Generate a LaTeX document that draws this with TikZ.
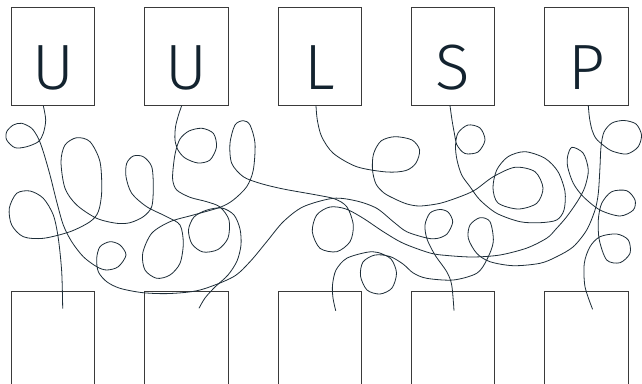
\documentclass[tikz,border=0pt]{standalone}
\usepackage{fontspec}
\setmainfont{Fira Sans}[UprightFont=* Light]
\definecolor{ink}{HTML}{13232F}
\definecolor{threadink}{HTML}{1D2D38}
\definecolor{frame}{HTML}{3A3A3A}
\begin{document}
\begin{tikzpicture}[x=1pt,y=-1pt,
  tile/.style={draw=frame,line width=0.9pt,minimum width=83.4pt,minimum height=98.4pt,inner sep=0pt,outer sep=0pt},
  glyph/.style={tile,text=ink,font=\fontsize{64}{64}\selectfont,text height=65pt,text depth=0pt},
  thread/.style={draw=threadink,line width=0.8pt}]
\clip (0,0) rectangle (642,383);
\fill[white] (0,0) rectangle (642,383);
\foreach \l [count=\i] in {U,U,L,S,P} {
  \node[glyph] (t\i) at ({53+133.4*(\i-1)},56.5) {\l};
  \node[tile] (b\i) at ({53+133.4*(\i-1)},340.9) {};
}
% U -> fourth slot
\draw[thread] plot[smooth] coordinates {([xshift=-9.7pt]t1.south) (45.7,120) (43.3,133.3) (38.3,141.7) (26.7,146.7) (15,147.7) (6.7,140) (6.7,131.7) (13.3,125) (21.7,123.3) (31.7,128.3) (38.3,138.3) (43.3,151.7) (50,175) (56.7,201.7) (63.3,225) (71.7,241.7) (83.3,256.7) (96.7,266.7) (106.7,270) (118.3,266.7) (126,255) (120,245) (110,241.7) (100,246.7) (96.7,258.3) (98.3,271.7) (106.7,281.7) (120,288.3) (143,292.7) (170,293.5) (200,290) (233,277) (250,261.7) (266.7,241.7) (283.3,221.7) (303.3,206.7) (333.3,198.3) (356.7,201) (376.7,208.3) (393.3,221.7) (406.7,231.7) (426.7,238) (437,238.5) (447,234) (452.7,222) (448.3,212.3) (440,209.5) (430,213) (425,225) (427,239) (435,255) (446.7,271.7) (451.7,285) ([xshift=0.8pt,yshift=-19pt]b4.north)};
% first slot -> last slot
\draw[thread] plot[smooth] coordinates {([xshift=9.7pt,yshift=-17pt]b1.north) (61.7,271.7) (58.3,238.3) (53.3,215) (43.3,198.3) (30,191) (16.7,193.3) (9.3,208.3) (11.7,225) (23.3,236.7) (43.3,238.3) (70,231.7) (90,221.7) (98.3,211.7) (101.7,191.7) (100,161.7) (90,141.7) (76.7,137.7) (65,145) (61,161.7) (65,188.3) (76.7,205) (96.7,218.3) (116.7,223.3) (130,222.7) (143.3,216.7) (151.7,206.7) (153.3,186.7) (151.7,166.7) (143.3,156.7) (133.3,156) (126.7,163.3) (126,176.7) (131.7,193.3) (146.7,206.7) (166.7,216.7) (180,225) (183.3,243.3) (180,263.3) (170,275) (156.7,278.3) (145,270) (142.7,253.3) (151.7,233.3) (170,221.7) (193.3,215) (220,207.3) (233.3,200) (246.7,186.7) (253.3,170) (255,143.3) (250,125) (243.3,120.7) (235,125) (230,143.3) (231.7,163.3) (243.3,176.7) (260,183.3) (283.3,189) (316.7,195) (335,199) (347,207) (353.3,225) (350,241.7) (336.7,251.7) (320,248.3) (312.3,231.7) (316.7,215) (330,207) (346,209) (363.3,218.3) (383.3,231.7) (403.3,243.3) (430,253) (447,255.5) (473,257) (500,255) (527,248) (547,238) (556,229) (566.7,216.7) (578.3,200) (585,186.7) (588.3,170) (583.3,153.3) (572,147.3) (567.7,156) (567.7,167) (573.3,183.3) (583.3,196.7) (600,210) (620,216) (633.3,210) (635,200) (626.7,190.7) (611.7,191.7) (601.7,203.3) (598.3,220) (599.3,240) (606.7,260) (620,262.7) (630,253.3) (628.3,240) (616.7,234) (600,236.7) (590,246.7) (584.3,263.3) (585,286.7) ([xshift=6pt,yshift=-17.6pt]b5.north)};
% second U -> second slot
\draw[thread] plot[smooth] coordinates {([xshift=-4.7pt]t2.south) (178.5,115) (175.5,127) (175,140) (178,150) (185,158) (198,163) (210,160) (216.5,147) (213.5,133.5) (202,128.3) (189,131) (180,139) (175.5,152) (173.3,166.7) (172.7,180) (176.7,190) (190,197.3) (206.7,201.7) (220,207) (229,220) (228,238) (218,249.5) (203,252) (192,244) (188.5,230) (194,217) (207,210) (222,208) (234,215) (240,229) (241,245) (237,261) (228,275) (215,287) (205,298) ([xshift=12.6pt,yshift=-16.6pt]b2.north)};
% L -> S
\draw[thread] plot[smooth] coordinates {([xshift=-3.8pt]t3.south) (317.3,120) (321.7,136.7) (333.3,153.3) (356.7,166.7) (386.7,172) (406,170.5) (416,163) (419.6,150) (412,140) (395,136.7) (381,141) (373.5,154) (372.5,170) (376,184) (384,193) (395,199) (407,204) (420,206) (440,203.3) (460,196.7) (475,190) (493.3,176.7) (515,167.3) (535,171.7) (543,188) (536.7,203.3) (518,209) (498,203) (493,188) (496.7,170) (508,156.7) (525,151.7) (545,158.3) (558,171.7) (565,191.7) (564,210) (556.7,220) (540,222.7) (520,221.7) (496.7,213.3) (480,200) (470,186.7) (461.7,175) (457,160) (455.5,146) (458,133) (468,125) (480,128) (485,140) (478,152) (465,153.5) (457,145) (454.3,133) (452,120) ([xshift=-3.2pt]t4.south)};
% P -> third slot
\draw[thread] plot[smooth] coordinates {([xshift=1.7pt]t5.south) (589.5,118) (592,130) (596,138.5) (603,145) (612,151) (626.7,154) (638,147) (641.5,135) (636,124) (624,120.5) (612,123) (604,132) (601,146.7) (600,166.7) (598.3,193.3) (595,210) (586.7,230) (573.3,246.7) (556.7,256.7) (540,263.3) (513.3,265.7) (490,261.7) (476.7,253.3) (468.3,238.3) (470,225) (480,217.7) (490,221.7) (493.3,241.7) (486.7,260) (476.7,273.3) (453.3,280) (426.7,278.3) (413.3,273) (403,264) (390,256.5) (375,255) (363,262) (360.5,276) (367,290) (380,294) (392,288) (396.5,273) (391,259) (378,252.5) (366.7,252.3) (346.7,258.3) (336,270) (332.5,285) (333,298) ([xshift=15.9pt,yshift=-19pt]b3.north)};
\end{tikzpicture}
\end{document}
